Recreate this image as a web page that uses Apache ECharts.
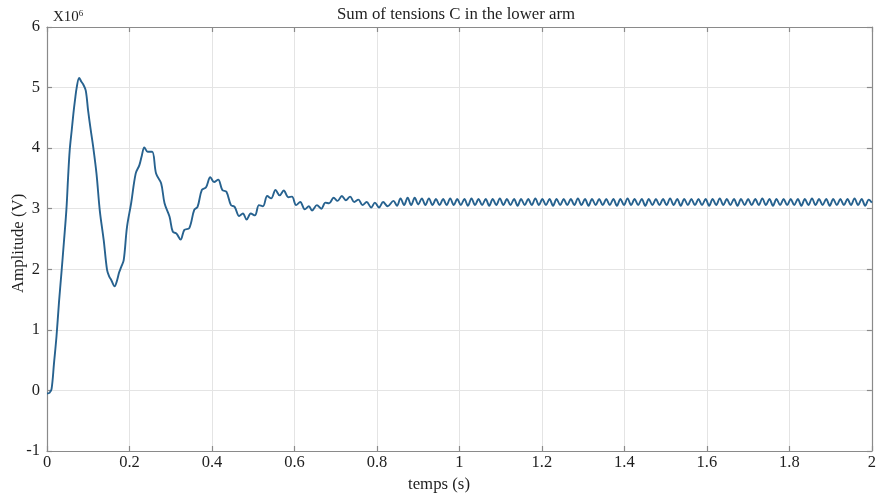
<!DOCTYPE html>
<html>
<head>
<meta charset="utf-8">
<script src="https://cdn.jsdelivr.net/npm/echarts@6/dist/echarts.min.js"></script>
<style>html,body{margin:0;padding:0;background:#fff}#c{width:879px;height:499px}</style>
</head>
<body>
<div id="c"></div>
<script>
// Chart text
const chartTitle = 'Sum of tensions C in the lower arm';
const xName = 'temps (s)';
const yName = 'Amplitude (V)';
const xTicks = [0, 0.2, 0.4, 0.6, 0.8, 1, 1.2, 1.4, 1.6, 1.8, 2];
const yTicks = [-1, 0, 1, 2, 3, 4, 5, 6];

// Transient part: time (s) and amplitude (x10^6 V)
const transientTime = [0.000,0.006,0.011,0.017,0.023,0.029,0.035,0.041,0.047,0.051,0.055,0.060,0.064,0.068,0.072,0.078,0.083,0.088,0.094,0.0997,0.106,0.112,0.120,0.128,0.1375,0.1456,0.151,0.156,0.164,0.170,0.175,0.180,0.186,0.194,0.204,0.215,0.224,0.230,0.236,0.244,0.255,0.2645,0.2767,0.285,0.297,0.305,0.314,0.324,0.333,0.345,0.357,0.365,0.3755,0.3853,0.396,0.405,0.415,0.425,0.435,0.446,0.455,0.466,0.475,0.484,0.494,0.504,0.514,0.5235,0.534,0.5435,0.554,0.564,0.574,0.585,0.594,0.604,0.614,0.625,0.635,0.6425,0.6545,0.665,0.675,0.684,0.695,0.7045,0.715,0.7245,0.735,0.745,0.755,0.765,0.775,0.786,0.795,0.805,0.815,0.826];
const transientValue = [-0.05,-0.04,0.02,0.45,0.89,1.45,1.94,2.45,2.98,3.50,3.96,4.30,4.57,4.80,5.00,5.16,5.10,5.05,4.95,4.62,4.30,4.02,3.58,2.97,2.48,1.99,1.88,1.82,1.72,1.82,1.95,2.04,2.15,2.70,3.09,3.58,3.72,3.88,4.01,3.94,3.94,3.58,3.42,3.09,2.87,2.62,2.59,2.49,2.65,2.68,2.98,3.03,3.31,3.35,3.52,3.44,3.48,3.31,3.28,3.06,3.03,2.88,2.92,2.82,2.92,2.89,3.06,3.04,3.21,3.17,3.31,3.22,3.30,3.19,3.20,3.06,3.11,2.99,3.04,2.97,3.06,3.00,3.10,3.09,3.18,3.13,3.21,3.14,3.20,3.11,3.15,3.06,3.11,3.02,3.10,3.02,3.11,3.04];

// Steady-state ripple: extremum times (s) and amplitude (x10^6 V)
const rippleTime = [0.8400,0.8486,0.8572,0.8658,0.8744,0.8830,0.8916,0.9002,0.9088,0.9174,0.9260,0.9346,0.9432,0.9518,0.9604,0.9690,0.9776,0.9862,0.9948,1.0034,1.0120,1.0206,1.0292,1.0378,1.0464,1.0550,1.0636,1.0722,1.0808,1.0894,1.0980,1.1066,1.1152,1.1238,1.1324,1.1410,1.1496,1.1582,1.1668,1.1754,1.1840,1.1926,1.2012,1.2098,1.2184,1.2270,1.2356,1.2442,1.2528,1.2614,1.2700,1.2786,1.2872,1.2958,1.3044,1.3130,1.3216,1.3302,1.3388,1.3474,1.3560,1.3646,1.3732,1.3818,1.3904,1.3990,1.4076,1.4162,1.4248,1.4334,1.4420,1.4506,1.4592,1.4678,1.4764,1.4850,1.4936,1.5022,1.5108,1.5194,1.5280,1.5366,1.5452,1.5538,1.5624,1.5710,1.5796,1.5882,1.5968,1.6054,1.6140,1.6226,1.6312,1.6398,1.6484,1.6570,1.6656,1.6742,1.6828,1.6914,1.7000,1.7086,1.7172,1.7258,1.7344,1.7430,1.7516,1.7602,1.7688,1.7774,1.7860,1.7946,1.8032,1.8118,1.8204,1.8290,1.8376,1.8462,1.8548,1.8634,1.8720,1.8806,1.8892,1.8978,1.9064,1.9150,1.9236,1.9322,1.9408,1.9494,1.9580,1.9666,1.9752,1.9838,1.9924,2.0000];
const rippleValue = [3.13,3.05,3.17,3.06,3.18,3.06,3.18,3.07,3.17,3.06,3.17,3.06,3.16,3.06,3.16,3.06,3.17,3.06,3.16,3.06,3.16,3.05,3.17,3.06,3.16,3.06,3.16,3.05,3.16,3.06,3.17,3.06,3.16,3.06,3.16,3.05,3.16,3.06,3.16,3.06,3.17,3.06,3.16,3.06,3.16,3.05,3.16,3.06,3.16,3.06,3.16,3.06,3.17,3.06,3.16,3.05,3.16,3.06,3.16,3.06,3.16,3.06,3.16,3.05,3.16,3.06,3.17,3.06,3.16,3.06,3.16,3.05,3.16,3.06,3.16,3.06,3.16,3.06,3.17,3.06,3.16,3.05,3.16,3.06,3.16,3.06,3.16,3.06,3.16,3.05,3.16,3.06,3.17,3.06,3.16,3.06,3.16,3.05,3.16,3.06,3.16,3.06,3.16,3.06,3.17,3.06,3.16,3.05,3.16,3.06,3.16,3.06,3.16,3.06,3.16,3.05,3.16,3.06,3.17,3.06,3.16,3.06,3.16,3.05,3.16,3.06,3.16,3.06,3.16,3.06,3.17,3.06,3.16,3.05,3.15,3.10];

const allTime = transientTime.concat(rippleTime);
const allValue = transientValue.concat(rippleValue);
const seriesData = allTime.map((t, i) => [t, allValue[i]]);

const FONT = '"Liberation Serif", "Times New Roman", serif';
const AXIS_COLOR = '#8a8a8a';
const GRID_COLOR = '#e4e4e4';
const TEXT_COLOR = '#1e1e1e';

const chart = echarts.init(document.getElementById('c'), null, {renderer: 'canvas'});

function xAxisCfg(pos, showLabel) {
  return {
    type: 'value', position: pos,
    min: xTicks[0], max: xTicks[xTicks.length - 1], interval: 0.2,
    axisLine: {show: true, onZero: false, lineStyle: {color: AXIS_COLOR, width: 1.2}},
    axisTick: {show: true, inside: true, length: 5, lineStyle: {color: AXIS_COLOR, width: 1.2}},
    splitLine: {show: showLabel, lineStyle: {color: GRID_COLOR, width: 1}},
    axisLabel: {show: showLabel, color: TEXT_COLOR, fontFamily: FONT, fontSize: 16.5, margin: 3,
      formatter: v => String(parseFloat(v.toFixed(1)))}
  };
}
function yAxisCfg(pos, showLabel) {
  return {
    type: 'value', position: pos,
    min: yTicks[0], max: yTicks[yTicks.length - 1], interval: 1,
    axisLine: {show: true, onZero: false, lineStyle: {color: AXIS_COLOR, width: 1.2}},
    axisTick: {show: true, inside: true, length: 5, lineStyle: {color: AXIS_COLOR, width: 1.2}},
    splitLine: {show: showLabel, lineStyle: {color: GRID_COLOR, width: 1}},
    axisLabel: {show: showLabel, color: TEXT_COLOR, fontFamily: FONT, fontSize: 16.5, margin: 7}
  };
}

chart.setOption({
  animation: false,
  backgroundColor: '#ffffff',
  grid: {left: 47, right: 3, top: 27, bottom: 48, containLabel: false},
  xAxis: [xAxisCfg('bottom', true), xAxisCfg('top', false)],
  yAxis: [yAxisCfg('left', true), yAxisCfg('right', false)],
  series: [{
    type: 'line',
    xAxisIndex: 0, yAxisIndex: 0,
    data: seriesData,
    showSymbol: false,
    smooth: 0.35,
    lineStyle: {color: '#27628f', width: 1.9},
    clip: true
  }],
  graphic: [
    {type: 'text', left: 337, top: 6,
      style: {text: chartTitle, fontFamily: FONT, fontSize: 16.8, fill: TEXT_COLOR}},
    {type: 'text', left: 408, top: 476,
      style: {text: xName, fontFamily: FONT, fontSize: 16.8, fill: TEXT_COLOR}},
    {type: 'text', x: 10, y: 293, rotation: Math.PI / 2,
      style: {text: yName, fontFamily: FONT, fontSize: 16.8, fill: TEXT_COLOR, textVerticalAlign: 'top'}},
    {type: 'text', left: 53, top: 9,
      style: {text: '{a|X10}{b|6}', fontFamily: FONT,
        rich: {a: {fontFamily: FONT, fontSize: 15, fill: TEXT_COLOR, verticalAlign: 'bottom'},
               b: {fontFamily: FONT, fontSize: 9, fill: TEXT_COLOR, verticalAlign: 'top', padding: [0, 0, 7, 0]}}}}
  ]
});
</script>
</body>
</html>
